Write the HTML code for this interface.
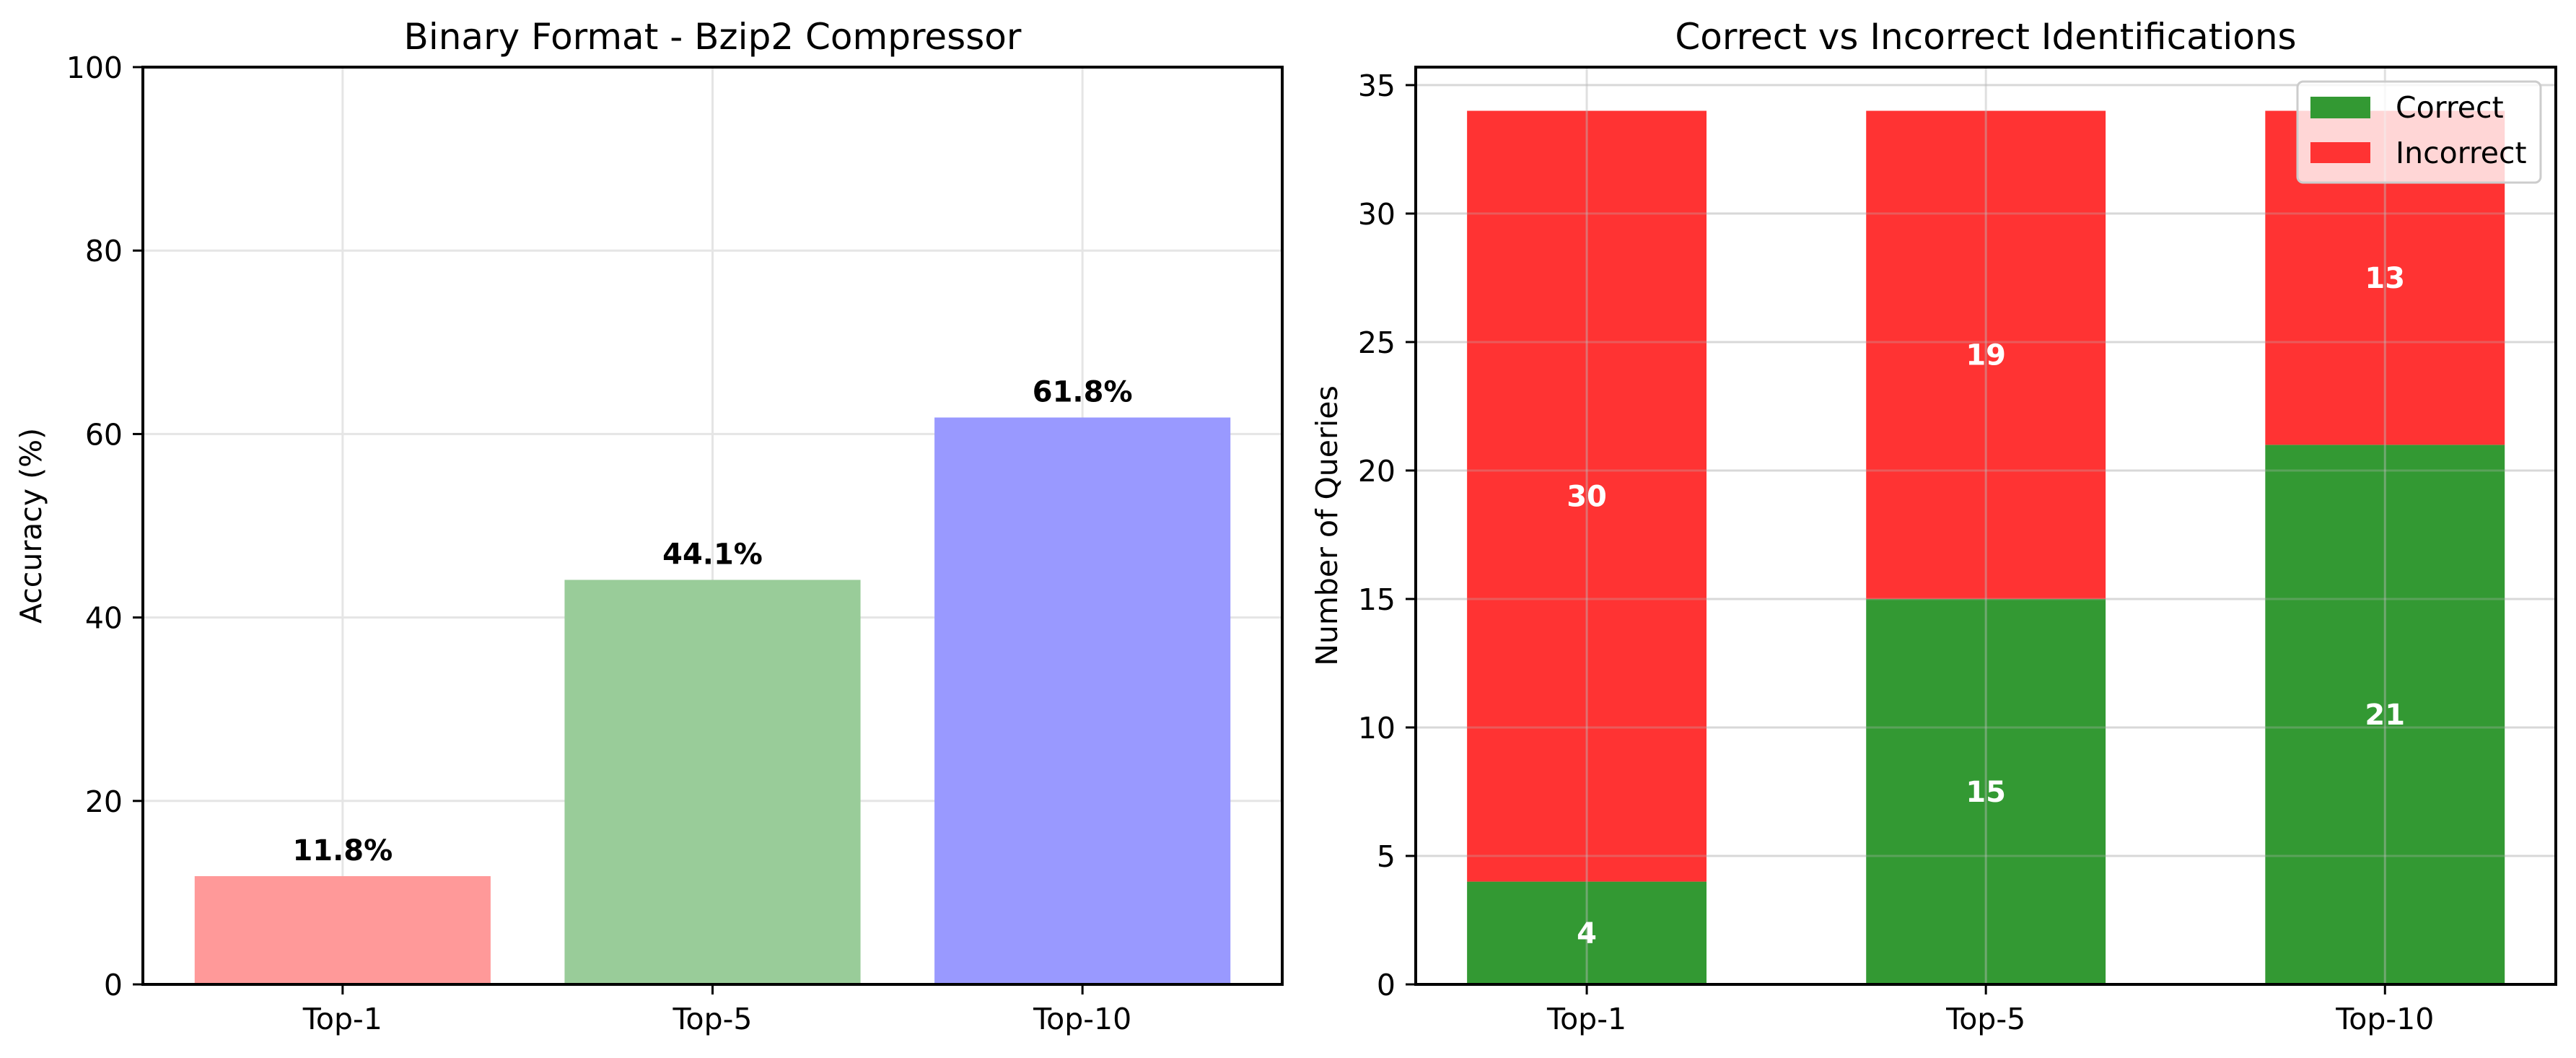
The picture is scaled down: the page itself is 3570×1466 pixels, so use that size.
<!DOCTYPE html>
<html><head><meta charset="utf-8"><style>
html,body{margin:0;padding:0;background:#fff;}
svg{display:block;font-family:"DejaVu Sans","Liberation Sans",sans-serif;}
</style></head><body>
<svg id="fig" width="3570" height="1466" viewBox="0 0 3570 1466" xmlns="http://www.w3.org/2000/svg">
<rect width="3570" height="1466" fill="#fff"/>
<g id="left"></g>
<g id="right"></g>
</svg>
<script>
const categories = ["Top-1", "Top-5", "Top-10"];
const accuracyValues = [11.8, 44.1, 61.8];
const accuracyLabels = ["11.8%", "44.1%", "61.8%"];
const accuracyTicks = [0, 20, 40, 60, 80, 100];
const correctValues = [4, 15, 21];
const incorrectValues = [30, 19, 13];
const countTicks = [0, 5, 10, 15, 20, 25, 30, 35];

const NS = "http://www.w3.org/2000/svg";
function mk(parent, tag, attrs, text) {
  const el = document.createElementNS(NS, tag);
  for (const k in attrs) el.setAttribute(k, attrs[k]);
  if (text !== undefined) el.textContent = text;
  parent.appendChild(el);
  return el;
}

// ---------- Left chart ----------
const L = document.getElementById('left');
const lx0 = 198, lx1 = 1777, ly0 = 93, ly1 = 1364;
const lxmin = -0.54, lxmax = 2.54, lymax = 100;
const lX = v => lx0 + (v - lxmin) / (lxmax - lxmin) * (lx1 - lx0);
const lY = v => ly1 - v / lymax * (ly1 - ly0);
const leftColors = ["#ff9999", "#99cc99", "#9999ff"];

accuracyTicks.forEach(t => {
  const g = mk(L, 'line', {x1: lx0, x2: lx1, y1: lY(t), y2: lY(t), stroke: '#e5e5e5', 'stroke-width': 3});
  
  
});
categories.forEach((c, i) => {
  const g = mk(L, 'line', {x1: lX(i), x2: lX(i), y1: ly0, y2: ly1, stroke: '#e5e5e5', 'stroke-width': 3});
  
  
});
categories.forEach((c, i) => {
  const w = 0.8;
  const b = mk(L, 'rect', {x: lX(i - w/2), y: lY(accuracyValues[i]), width: lX(i + w/2) - lX(i - w/2), height: lY(0) - lY(accuracyValues[i]), fill: leftColors[i]});
  
  
  const t = mk(L, 'text', {x: lX(i), y: lY(accuracyValues[i]) - 22, 'text-anchor': 'middle', 'font-size': 40, 'font-weight': 'bold', fill: '#000'}, accuracyLabels[i]);
  
  
});
mk(L, 'rect', {x: lx0, y: ly0, width: lx1 - lx0, height: ly1 - ly0, fill: 'none', stroke: '#000', 'stroke-width': 4});
accuracyTicks.forEach(t => {
  mk(L, 'line', {x1: lx0 - 14, x2: lx0, y1: lY(t), y2: lY(t), stroke: '#000', 'stroke-width': 3});
  const tl = mk(L, 'text', {x: lx0 - 28, y: lY(t) + 15, 'text-anchor': 'end', 'font-size': 41}, String(t));
  
  
});
categories.forEach((c, i) => {
  mk(L, 'line', {x1: lX(i), x2: lX(i), y1: ly1, y2: ly1 + 14, stroke: '#000', 'stroke-width': 3});
  const tl = mk(L, 'text', {x: lX(i), y: ly1 + 62, 'text-anchor': 'middle', 'font-size': 41}, c);
  
  
});
const lt = mk(L, 'text', {x: (lx0 + lx1) / 2, y: 68, 'text-anchor': 'middle', 'font-size': 50}, 'Binary Format - Bzip2 Compressor');


const lyl = mk(L, 'text', {x: 0, y: 0, 'text-anchor': 'middle', 'font-size': 41, transform: `translate(57,${(ly0 + ly1) / 2}) rotate(-90)`}, 'Accuracy (%)');



// ---------- Right chart ----------
const R = document.getElementById('right');
const rx0 = 1962, rx1 = 3542, ry0 = 93, ry1 = 1364;
const rxmin = -0.4286, rxmax = 2.428, rymax = 35.7;
const rX = v => rx0 + (v - rxmin) / (rxmax - rxmin) * (rx1 - rx0);
const rY = v => ry1 - v / rymax * (ry1 - ry0);

countTicks.forEach(t => {
  const g = mk(R, 'line', {x1: rx0, x2: rx1, y1: rY(t), y2: rY(t), stroke: '#e5e5e5', 'stroke-width': 3});
  
  
});
categories.forEach((c, i) => {
  const w = 0.6;
  const xa = rX(i - w/2), xb = rX(i + w/2);
  const total = correctValues[i] + incorrectValues[i];
  const g = mk(R, 'rect', {x: xa, y: rY(correctValues[i]), width: xb - xa, height: rY(0) - rY(correctValues[i]), fill: '#339933'});
  
  
  const r = mk(R, 'rect', {x: xa, y: rY(total), width: xb - xa, height: rY(correctValues[i]) - rY(total), fill: '#ff3333'});
  
  
});
categories.forEach((c, i) => {
  const g = mk(R, 'line', {x1: rX(i), x2: rX(i), y1: ry0, y2: ry1, stroke: '#bbbbbb', 'stroke-opacity': 0.45, 'stroke-width': 3});
  
  
});
countTicks.forEach(t => {
  mk(R, 'line', {x1: rx0, x2: rx1, y1: rY(t), y2: rY(t), stroke: '#bbbbbb', 'stroke-opacity': 0.3, 'stroke-width': 3});
});
categories.forEach((c, i) => {
  const t1 = mk(R, 'text', {x: rX(i), y: rY(correctValues[i] / 2) + 14, 'text-anchor': 'middle', 'font-size': 40, 'font-weight': 'bold', fill: '#fff'}, String(correctValues[i]));
  
  
  const t2 = mk(R, 'text', {x: rX(i), y: rY(correctValues[i] + incorrectValues[i] / 2) + 14, 'text-anchor': 'middle', 'font-size': 40, 'font-weight': 'bold', fill: '#fff'}, String(incorrectValues[i]));
  
  
});
mk(R, 'rect', {x: rx0, y: ry0, width: rx1 - rx0, height: ry1 - ry0, fill: 'none', stroke: '#000', 'stroke-width': 4});
countTicks.forEach(t => {
  mk(R, 'line', {x1: rx0 - 14, x2: rx0, y1: rY(t), y2: rY(t), stroke: '#000', 'stroke-width': 3});
  const tl = mk(R, 'text', {x: rx0 - 28, y: rY(t) + 15, 'text-anchor': 'end', 'font-size': 41}, String(t));
  
  
});
categories.forEach((c, i) => {
  mk(R, 'line', {x1: rX(i), x2: rX(i), y1: ry1, y2: ry1 + 14, stroke: '#000', 'stroke-width': 3});
  const tl = mk(R, 'text', {x: rX(i), y: ry1 + 62, 'text-anchor': 'middle', 'font-size': 41}, c);
  
  
});
const rt = mk(R, 'text', {x: (rx0 + rx1) / 2, y: 68, 'text-anchor': 'middle', 'font-size': 50}, 'Correct vs Incorrect Identifications');


const ryl = mk(R, 'text', {x: 0, y: 0, 'text-anchor': 'middle', 'font-size': 41, transform: `translate(1853,${(ry0 + ry1) / 2}) rotate(-90)`}, 'Number of Queries');



// legend
const lg = mk(R, 'g', {});


mk(lg, 'rect', {x: 3184, y: 113, width: 337, height: 140, rx: 8, fill: '#fff', 'fill-opacity': 0.8, stroke: '#cccccc', 'stroke-width': 3});
const e1 = mk(lg, 'g', {});


mk(e1, 'rect', {x: 3202, y: 134, width: 83, height: 30, fill: '#339933'});
mk(e1, 'text', {x: 3320, y: 163, 'font-size': 41}, 'Correct');
const e2 = mk(lg, 'g', {});


mk(e2, 'rect', {x: 3202, y: 197, width: 83, height: 29, fill: '#ff3333'});
mk(e2, 'text', {x: 3320, y: 226, 'font-size': 41}, 'Incorrect');
</script>
</body></html>
